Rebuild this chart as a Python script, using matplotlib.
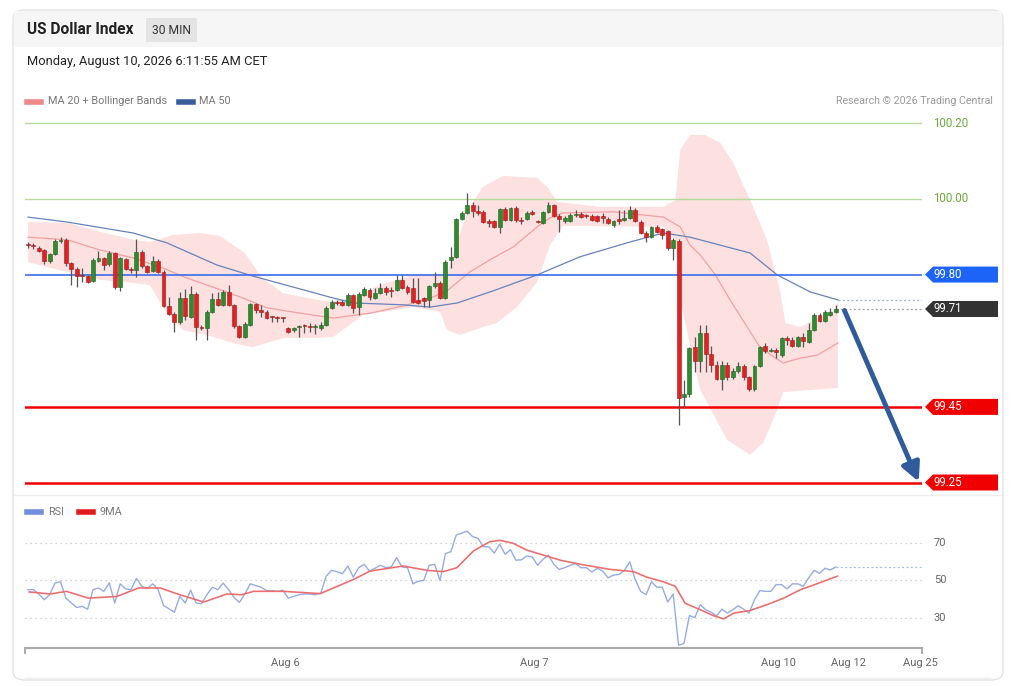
import numpy as np
import matplotlib.pyplot as plt
import matplotlib.transforms as mtransforms
from matplotlib.patches import Polygon, FancyBboxPatch, Rectangle
from matplotlib.lines import Line2D

plt.rcParams["font.family"] = ["Roboto", "DejaVu Sans"]

# ---- 30 min candles, US Dollar Index ----
opens = [99.881, 99.878, 99.870, 99.865, 99.836, 99.854, 99.889, 99.892, 99.831, 99.815,
         99.796, 99.796, 99.783, 99.836, 99.844, 99.828, 99.857, 99.767, 99.841, 99.815,
         99.812, 99.860, 99.823, 99.810, 99.836, 99.807, 99.717, 99.696, 99.675, 99.738,
         99.688, 99.749, 99.661, 99.659, 99.701, 99.735, 99.720, 99.754, 99.720, 99.664,
         99.635, 99.667, 99.722, 99.706, 99.701, 99.688, 99.688, 99.686, 99.659, 99.653,
         99.661, 99.664, 99.664, 99.661, 99.659, 99.667, 99.712, 99.728, 99.728, 99.720,
         99.746, 99.714, 99.746, 99.759, 99.738, 99.751, 99.765, 99.757, 99.759, 99.786,
         99.767, 99.765, 99.733, 99.738, 99.733, 99.770, 99.778, 99.738, 99.839, 99.847,
         99.947, 99.963, 99.984, 99.968, 99.966, 99.942, 99.942, 99.926, 99.974, 99.944,
         99.976, 99.944, 99.947, 99.966, 99.939, 99.937, 99.966, 99.984, 99.955, 99.942,
         99.942, 99.957, 99.960, 99.955, 99.955, 99.955, 99.955, 99.947, 99.931, 99.944,
         99.944, 99.950, 99.971, 99.939, 99.910, 99.899, 99.926, 99.921, 99.915, 99.870,
         99.889, 99.476, 99.484, 99.608, 99.571, 99.646, 99.590, 99.561, 99.524, 99.561,
         99.529, 99.545, 99.558, 99.529, 99.497, 99.558, 99.611, 99.598, 99.601, 99.587,
         99.632, 99.627, 99.611, 99.635, 99.622, 99.653, 99.693, 99.677, 99.693, 99.701]
highs = [99.886, 99.884, 99.876, 99.868, 99.857, 99.894, 99.899, 99.897, 99.833, 99.820,
         99.817, 99.799, 99.844, 99.862, 99.847, 99.862, 99.860, 99.847, 99.844, 99.820,
         99.894, 99.865, 99.825, 99.849, 99.841, 99.812, 99.741, 99.701, 99.754, 99.762,
         99.770, 99.754, 99.667, 99.706, 99.751, 99.754, 99.759, 99.772, 99.722, 99.667,
         99.675, 99.725, 99.725, 99.720, 99.706, 99.690, 99.690, 99.688, 99.661, 99.661,
         99.667, 99.669, 99.672, 99.669, 99.675, 99.717, 99.733, 99.733, 99.733, 99.751,
         99.749, 99.754, 99.767, 99.765, 99.765, 99.778, 99.770, 99.767, 99.799, 99.799,
         99.772, 99.791, 99.791, 99.741, 99.772, 99.807, 99.783, 99.839, 99.873, 99.950,
         99.968, 100.016, 99.992, 99.984, 99.971, 99.947, 99.944, 99.976, 99.979, 99.979,
         99.981, 99.952, 99.968, 99.971, 99.944, 99.968, 99.992, 99.987, 99.960, 99.955,
         99.963, 99.971, 99.966, 99.960, 99.960, 99.958, 99.963, 99.952, 99.944, 99.971,
         99.971, 99.981, 99.976, 99.944, 99.915, 99.929, 99.931, 99.923, 99.918, 99.897,
         99.894, 99.521, 99.608, 99.635, 99.667, 99.667, 99.611, 99.571, 99.571, 99.569,
         99.553, 99.569, 99.563, 99.532, 99.561, 99.611, 99.619, 99.606, 99.606, 99.635,
         99.638, 99.635, 99.638, 99.646, 99.672, 99.698, 99.698, 99.706, 99.712, 99.720]
lows = [99.870, 99.868, 99.860, 99.828, 99.831, 99.852, 99.884, 99.823, 99.772, 99.767,
        99.780, 99.778, 99.780, 99.833, 99.812, 99.823, 99.762, 99.757, 99.812, 99.804,
        99.794, 99.817, 99.804, 99.807, 99.804, 99.714, 99.693, 99.648, 99.669, 99.680,
        99.685, 99.627, 99.653, 99.627, 99.698, 99.717, 99.717, 99.717, 99.659, 99.632,
        99.632, 99.664, 99.698, 99.688, 99.683, 99.675, 99.675, 99.675, 99.646, 99.648,
        99.635, 99.646, 99.648, 99.643, 99.653, 99.664, 99.709, 99.720, 99.717, 99.717,
        99.698, 99.693, 99.743, 99.733, 99.735, 99.749, 99.746, 99.741, 99.757, 99.762,
        99.749, 99.725, 99.722, 99.714, 99.714, 99.765, 99.735, 99.735, 99.817, 99.844,
        99.944, 99.960, 99.952, 99.958, 99.937, 99.926, 99.923, 99.910, 99.942, 99.942,
        99.939, 99.934, 99.944, 99.958, 99.937, 99.934, 99.963, 99.952, 99.913, 99.937,
        99.939, 99.952, 99.950, 99.950, 99.942, 99.939, 99.937, 99.934, 99.926, 99.934,
        99.942, 99.947, 99.939, 99.907, 99.886, 99.897, 99.910, 99.894, 99.865, 99.839,
        99.402, 99.447, 99.476, 99.542, 99.542, 99.542, 99.542, 99.521, 99.495, 99.521,
        99.524, 99.540, 99.521, 99.492, 99.492, 99.556, 99.593, 99.595, 99.579, 99.582,
        99.614, 99.608, 99.608, 99.608, 99.619, 99.651, 99.675, 99.675, 99.690, 99.698]
closes = [99.878, 99.876, 99.862, 99.836, 99.854, 99.889, 99.892, 99.831, 99.815, 99.796,
          99.795, 99.780, 99.839, 99.844, 99.825, 99.857, 99.767, 99.844, 99.815, 99.812,
          99.860, 99.823, 99.807, 99.836, 99.807, 99.717, 99.696, 99.675, 99.738, 99.690,
          99.749, 99.661, 99.659, 99.701, 99.735, 99.720, 99.754, 99.720, 99.664, 99.635,
          99.669, 99.722, 99.706, 99.701, 99.685, 99.687, 99.686, 99.685, 99.648, 99.659,
          99.663, 99.663, 99.662, 99.663, 99.667, 99.712, 99.728, 99.725, 99.720, 99.746,
          99.712, 99.749, 99.762, 99.741, 99.751, 99.765, 99.754, 99.756, 99.786, 99.765,
          99.754, 99.728, 99.725, 99.730, 99.770, 99.778, 99.738, 99.833, 99.847, 99.947,
          99.963, 99.984, 99.968, 99.963, 99.939, 99.937, 99.926, 99.974, 99.944, 99.976,
          99.944, 99.942, 99.963, 99.960, 99.938, 99.966, 99.984, 99.955, 99.947, 99.950,
          99.958, 99.961, 99.952, 99.954, 99.944, 99.942, 99.950, 99.937, 99.942, 99.943,
          99.950, 99.971, 99.942, 99.910, 99.899, 99.926, 99.913, 99.905, 99.870, 99.892,
          99.474, 99.484, 99.606, 99.571, 99.646, 99.590, 99.561, 99.524, 99.561, 99.529,
          99.545, 99.558, 99.529, 99.497, 99.558, 99.608, 99.598, 99.601, 99.595, 99.632,
          99.627, 99.611, 99.635, 99.624, 99.653, 99.693, 99.677, 99.701, 99.701, 99.709]

# indicator lines, sampled at candle positions
ma20_x = [0, 7.2, 13.3, 19.4, 24.4, 29.3, 34.1, 39.1, 44.1, 50.2, 56.3, 63.1, 69.2, 74.2,
          77.3, 81.5, 85.2, 89.5, 93.9, 96.3, 98.7, 107.9, 117.2, 120.3, 122.1, 124,
          126.8, 129.5, 135.1, 139.3, 142.4, 145.6, 149.4]
ma20_y = [99.899, 99.892, 99.865, 99.844, 99.820, 99.791, 99.767, 99.741, 99.712, 99.698,
          99.685, 99.698, 99.717, 99.738, 99.757, 99.807, 99.839, 99.873, 99.926, 99.950,
          99.963, 99.966, 99.952, 99.926, 99.878, 99.852, 99.799, 99.733, 99.606, 99.566,
          99.579, 99.587, 99.619]
ma50_x = [0, 7.2, 19.4, 25.6, 34.9, 41.5, 48.9, 56.3, 60, 69.2, 74.2, 79.2, 85.8, 93.9,
          101.8, 111, 117.2, 122.1, 133.2, 138.2, 144.3, 149.4]
ma50_y = [99.952, 99.939, 99.910, 99.884, 99.825, 99.796, 99.767, 99.738, 99.725, 99.720,
          99.714, 99.725, 99.757, 99.799, 99.847, 99.886, 99.910, 99.899, 99.857, 99.799,
          99.754, 99.733]
bb_up_x = [0, 7.2, 13.3, 19.4, 22.5, 26.8, 31.7, 35.4, 40, 43.2, 47, 53.3, 56.3, 61.3,
           64.9, 71, 77.3, 79.2, 81.5, 83.9, 87.6, 93.9, 95.8, 97.6, 105.5, 117.2, 119.4,
           120.3, 122.1, 124.9, 127.7, 130.1, 133.2, 136.3, 138.7, 139.7, 142.4, 148.5, 149.4]
bb_up_y = [99.939, 99.937, 99.913, 99.892, 99.886, 99.905, 99.910, 99.902, 99.857, 99.791,
           99.751, 99.733, 99.728, 99.746, 99.772, 99.799, 99.802, 99.892, 99.979, 100.032,
           100.061, 100.056, 100.032, 99.992, 99.979, 99.979, 99.997, 100.130, 100.169,
           100.169, 100.148, 100.095, 99.997, 99.892, 99.759, 99.672, 99.661, 99.706, 99.728]
bb_lo_x = [0, 7.2, 13.3, 19.4, 22.5, 25.6, 28.6, 33, 37.8, 41.5, 47, 53.3, 56.3, 61.8,
           71, 76, 77.3, 79.7, 83.4, 86.5, 90.2, 93.9, 96.3, 98.7, 117.2, 119.4, 120.3,
           122.1, 124, 129, 133.2, 135.6, 138.2, 139.3, 144.3, 149.4]
bb_lo_y = [99.833, 99.807, 99.786, 99.778, 99.772, 99.698, 99.653, 99.640, 99.619, 99.608,
           99.632, 99.632, 99.635, 99.693, 99.714, 99.701, 99.653, 99.640, 99.659, 99.672,
           99.714, 99.780, 99.878, 99.929, 99.926, 99.892, 99.733, 99.614, 99.495, 99.362,
           99.323, 99.355, 99.442, 99.489, 99.495, 99.500]

# RSI (one value per candle) and its 9 period average
rsi = [45.1, 45.1, 42.8, 39.7, 42.4, 48.7, 49.3, 40.6, 38.0, 35.6,
       36.2, 34.7, 45.1, 46.0, 44.2, 48.7, 38.0, 48.2, 45.5, 45.1,
       51.1, 46.9, 45.7, 48.2, 45.1, 36.7, 34.9, 33.1, 41.5, 38.0,
       44.8, 38.0, 37.6, 42.4, 46.4, 45.1, 48.6, 45.1, 41.0, 38.3,
       42.8, 48.2, 47.3, 46.4, 44.6, 44.6, 44.2, 44.8, 40.6, 41.5,
       42.4, 42.8, 42.8, 42.4, 43.3, 52.3, 55.4, 54.7, 53.6, 57.7,
       51.8, 56.8, 58.6, 55.0, 56.5, 58.1, 56.8, 57.2, 62.2, 57.2,
       56.8, 48.2, 49.6, 50.0, 58.1, 58.6, 50.0, 64.4, 65.3, 74.3,
       75.2, 76.3, 73.4, 72.5, 68.0, 68.0, 64.6, 69.4, 64.0, 66.4,
       60.8, 61.0, 63.1, 62.6, 58.1, 61.3, 63.5, 58.6, 55.9, 56.8,
       58.1, 59.0, 56.8, 56.8, 54.5, 56.5, 55.0, 51.4, 52.9, 53.2,
       55.4, 59.9, 50.5, 44.2, 42.4, 49.3, 46.4, 46.4, 38.5, 42.8,
       15.5, 16.4, 31.3, 30.2, 37.1, 34.4, 33.1, 31.1, 34.7, 32.6,
       34.4, 36.5, 34.7, 32.6, 39.7, 44.6, 44.2, 44.2, 47.8, 47.8,
       45.5, 48.2, 48.2, 46.9, 51.4, 55.4, 53.8, 56.5, 55.6, 57.2]
ma9_x = [0.2, 4.1, 7.1, 11.1, 16.4, 20.4, 24.4, 28.0, 32.4, 36.7, 39.4, 41.6, 47.1, 53.9,
         60.0, 63.1, 69.2, 73.6, 76.6, 79.1, 82.2, 85.2, 87.1, 89.5, 92, 95.1, 98.2, 102.5,
         107.4, 111.7, 114.1, 117.2, 119.4, 121.2, 124, 126.4, 128.3, 130.2, 133.2, 136.3,
         139.4, 142.5, 145.5, 149.3]
ma9_y = [43.9, 42.8, 44.2, 40.6, 41.5, 46.0, 46.0, 42.4, 38.5, 42.8, 42.4, 44.2, 44.2, 43.0,
         50.5, 55.0, 57.7, 55.4, 54.7, 56.8, 65.8, 70.7, 71.4, 69.8, 66.2, 63.5, 60.8, 58.3,
         55.9, 54.7, 51.8, 49.3, 46.9, 37.9, 34.4, 31.3, 29.5, 32.6, 34.0, 37.1,
         40.6, 45.1, 48.2, 52.3]

# key levels (resistance / pivot / support)
level_values = [100.20, 100.00, 99.80, 99.45, 99.25]
level_kinds = ["res", "res", "pivot", "sup", "sup"]
last_price_label = "99.71"
target = 99.25

date_ticks = [47.4, 93.4, 138.4, 151.3, 164.6]
date_labels = ["Aug 6", "Aug 7", "Aug 10", "Aug 12", "Aug 25"]
rsi_grid = [30, 50, 70]

W, H = 1024, 686
X0, X1 = -0.55, 164.9


def fx(px):
    return px / W


def fy(py):
    return 1 - py / H


fig = plt.figure(figsize=(W / 100, H / 100), dpi=100)


def fig_line(xs, ys, **kw):
    fig.lines.append(Line2D(xs, ys, transform=fig.transFigure, zorder=-5, **kw))


# card + header band (behind the axes)
fig.patches.append(FancyBboxPatch((fx(13), fy(680)), fx(1003) - fx(13), fy(10) - fy(680),
                                  boxstyle="round,pad=0,rounding_size=0.012",
                                  transform=fig.transFigure, fc="white", ec="#e3e3e3",
                                  lw=1, zorder=-10))
fig.patches.append(Rectangle((fx(14), fy(47)), fx(1002) - fx(14), fy(11) - fy(47),
                             transform=fig.transFigure, fc="#f6f6f6", ec="none", zorder=-9))
fig.patches.append(Rectangle((fx(146), fy(42)), fx(197) - fx(146), fy(18) - fy(42),
                             transform=fig.transFigure, fc="#e4e4e4", ec="none", zorder=-8))
fig_line([fx(14), fx(1002)], [fy(495)] * 2, color="#eeeeee", lw=1)
fig_line([fx(25), fx(990)], [fy(678)] * 2, color="#eeeeee", lw=1)

fig.text(fx(27), fy(30), "US Dollar Index", fontsize=11.2, fontweight="bold",
         color="#222222", va="center")
fig.text(fx(171.5), fy(30), "30 MIN", fontsize=8.7, color="#333333", va="center", ha="center")
fig.text(fx(27), fy(62), "Monday, August 10, 2026 6:11:55 AM CET", fontsize=9.3,
         color="#222222", va="center")

# legend
fig_line([fx(27), fx(41)], [fy(101.5)] * 2, color="#f08888", lw=4)
fig.text(fx(48), fy(101.5), "MA 20 + Bollinger Bands", fontsize=7.8, color="#777777", va="center")
fig_line([fx(179), fx(193)], [fy(101.5)] * 2, color="#3a5c9c", lw=4)
fig.text(fx(199), fy(101.5), "MA 50", fontsize=7.8, color="#777777", va="center")
fig.text(fx(993), fy(101.5), "Research \u00a9 2026 Trading Central", fontsize=7.7,
         color="#999999", va="center", ha="right")

# ---- price panel ----
ax = fig.add_axes([fx(25), fy(495), fx(922) - fx(25), fy(112) - fy(495)])
ax.set_xlim(X0, X1)
ax.set_ylim(99.217, 100.230)
ax.axis("off")

o = np.array(opens)
h = np.array(highs)
l = np.array(lows)
c = np.array(closes)
idx = np.arange(len(c))
up = c >= o

ax.fill(np.r_[bb_up_x, bb_lo_x[::-1]], np.r_[bb_up_y, bb_lo_y[::-1]],
        color="#fde0e0", lw=0, zorder=1)
ax.plot(ma20_x, ma20_y, color="#f3a0a0", lw=0.9, zorder=2)
ax.plot(ma50_x, ma50_y, color="#6583bd", lw=0.9, zorder=2)

ax.vlines(idx, l, h, color="#555555", lw=0.9, zorder=3)
body_lo = np.minimum(o, c)
body_h = np.maximum(np.abs(c - o), 0.003)
ax.bar(idx, body_h, bottom=body_lo, width=0.72,
       color=np.where(up, "#2e8b2e", "#e02222"),
       edgecolor=np.where(up, "#1f5f1f", "#a01818"), linewidth=0.4, zorder=4)

level_style = {
    "res": dict(color="#b5dc9c", lw=1.0),
    "pivot": dict(color="#3a6cf0", lw=1.2),
    "sup": dict(color="#f00000", lw=1.8),
}
box_color = {"pivot": "#1c64f8", "sup": "#f00000"}
tr = mtransforms.blended_transform_factory(fig.transFigure, ax.transData)
hh = 8 / 378


def tag(y, text, fc):
    pts = [(fx(925), y), (fx(933), y + hh), (fx(998), y + hh), (fx(998), y - hh), (fx(933), y - hh)]
    ax.add_patch(Polygon(pts, closed=True, transform=tr, fc=fc, ec="none", clip_on=False))
    ax.text(fx(934), y, text, transform=tr, color="white", fontsize=8.3, va="center",
            clip_on=False)


for v, kind in zip(level_values, level_kinds):
    ax.axhline(v, zorder=2.5, **level_style[kind])
    if kind == "res":
        ax.text(fx(933), v, f"{v:.2f}", transform=tr, color="#6aab3c", fontsize=8.3,
                va="center", clip_on=False)
    else:
        tag(v, f"{v:.2f}", box_color[kind])

# last price and MA50 projections to the right edge
ax.plot([ma50_x[-1], X1], [ma50_y[-1]] * 2, ls=(0, (1.5, 2)), color="#9aaad0", lw=0.9)
ax.plot([idx[-1], X1], [c[-1]] * 2, ls=(0, (1.5, 2)), color="#999999", lw=0.9)
tag(c[-1], last_price_label, "#333333")

ax.annotate("", xy=(164.3, target + 0.002), xytext=(150.6, c[-1] - 0.004),
            arrowprops=dict(arrowstyle="-|>,head_length=1.1,head_width=0.55",
                            lw=3.5, color="#2f5b9c", shrinkA=0, shrinkB=0), zorder=6)

# ---- RSI panel ----
rax = fig.add_axes([fx(25), fy(648), fx(922) - fx(25), fy(500) - fy(648)])
rax.set_xlim(X0, X1)
rax.set_ylim(14, 92.9)
rtr = mtransforms.blended_transform_factory(fig.transFigure, rax.transData)
for g in rsi_grid:
    rax.axhline(g, ls=(0, (1, 3)), color="#c4c4c4", lw=0.9)
    rax.text(fx(934), g, str(g), transform=rtr, fontsize=8, color="#666666", va="center")
rax.plot(idx, rsi, color="#94ace6", lw=1.0)
rax.plot(ma9_x, ma9_y, color="#ef6a6a", lw=1.15)
rax.plot([idx[-1], X1], [rsi[-1]] * 2, ls=(0, (1.5, 2)), color="#a6b8e8", lw=0.9)

for s in ["top", "right", "left"]:
    rax.spines[s].set_visible(False)
rax.spines["bottom"].set_color("#aaaaaa")
rax.spines["bottom"].set_linewidth(1.6)
rax.set_yticks([])
rax.set_xticks(date_ticks, date_labels)
rax.tick_params(axis="x", length=0, pad=7, labelsize=8, labelcolor="#666666")
rax.set_facecolor("none")
for xe in (0, 1):
    rax.plot([xe, xe], [0, -0.035], transform=rax.transAxes, color="#aaaaaa", lw=1.4,
             clip_on=False)

# RSI legend
fig_line([fx(27), fx(41)], [fy(512)] * 2, color="#6f8fda", lw=4)
fig.text(fx(48), fy(512), "RSI", fontsize=7.8, color="#777777", va="center")
fig_line([fx(79), fx(93)], [fy(512)] * 2, color="#e41b1b", lw=4)
fig.text(fx(100), fy(512), "9MA", fontsize=7.8, color="#777777", va="center")

fig.savefig("out.png", dpi=100)
